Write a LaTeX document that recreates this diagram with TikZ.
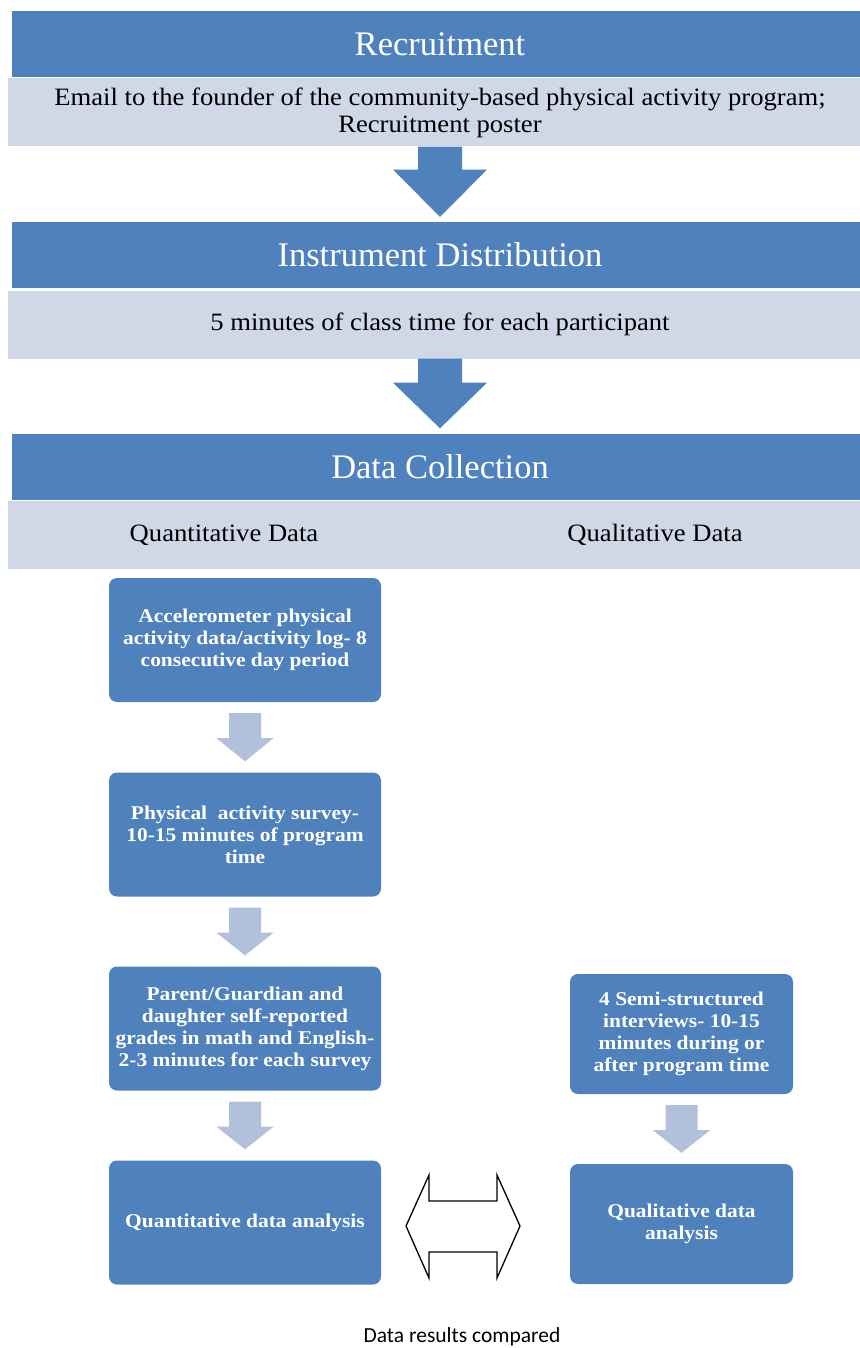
\documentclass[tikz,border=0pt]{standalone}
\usepackage{fontspec}
\setmainfont{Liberation Serif}
\newfontfamily\lbfont{Liberation Serif}[FakeStretch=1.065]
\newfontfamily\bxfont{Liberation Serif}[FakeStretch=1.1]
\newfontfamily\carl{Carlito}
\usetikzlibrary{calc}
\definecolor{dblue}{HTML}{4F81BD}
\definecolor{lblue}{HTML}{D0D8E8}
\definecolor{sarrow}{HTML}{B2C1DB}
\tikzset{
  header/.style={fill=dblue, draw=none, minimum width=856pt, minimum height=66pt, text=white, font=\fontsize{34.5}{40}\selectfont, inner sep=0pt},
  lightbox/.style={fill=lblue, draw=none, minimum width=864pt, minimum height=68pt, font=\lbfont\fontsize{25}{27}\selectfont, align=center, inner sep=0pt},
  stepbox/.style={fill=dblue, draw=none, rounded corners=8pt, text=white, font=\bxfont\bfseries\fontsize{19.5}{22}\selectfont, align=center, inner sep=0pt},
  bigarrow/.style={fill=dblue, draw=none},
  smallarrow/.style={fill=sarrow, draw=none},
  dblarrow/.style={draw=black, line width=1.3pt, fill=white, line join=miter},
  plain/.style={font=\lbfont\fontsize{25}{27}\selectfont, inner sep=0pt}
}
\begin{document}
\begin{tikzpicture}[x=1pt,y=-1pt]
\useasboundingbox (0,0) rectangle (859,1348);
% headers and light boxes
\node[header] (h1) at (440,44.5) {Recruitment};
\node[lightbox] (l1) at (440,112.5) {Email to the founder of the community-based physical activity program;\\Recruitment poster};
\node[header] (h2) at (440,255) {Instrument Distribution};
\node[lightbox] (l2) at (440,324.5) {5 minutes of class time for each participant};
\node[header] (h3) at (440,466.5) {Data Collection};
\node[lightbox] (l3) at (440,535) {};
\node[plain] (qn) at (224,535) {Quantitative Data};
\node[plain] (ql) at (655,535) {Qualitative Data};
% big arrows
\fill[bigarrow] ($(l1.south)+(-22,0)$) -- ($(l1.south)+(22,0)$) -- ($(l1.south)+(22,23)$) -- ($(l1.south)+(47,23)$) -- ($(h2.north)+(0,-5)$) -- ($(l1.south)+(-47,23)$) -- ($(l1.south)+(-22,23)$) -- cycle;
\fill[bigarrow] ($(l2.south)+(-22,0)$) -- ($(l2.south)+(22,0)$) -- ($(l2.south)+(22,24)$) -- ($(l2.south)+(47,24)$) -- ($(h3.north)+(0,-5)$) -- ($(l2.south)+(-47,24)$) -- ($(l2.south)+(-22,24)$) -- cycle;
% left column
\node[stepbox, minimum width=272pt, minimum height=124pt] (a) at (245,640) {Accelerometer physical\\activity data/activity log- 8\\consecutive day period};
\node[stepbox, minimum width=272pt, minimum height=124pt] (b) at (245,834.5) {Physical\ \ activity survey-\\10-15 minutes of program\\time};
\node[stepbox, minimum width=272pt, minimum height=124pt] (c) at (245,1028.5) {Parent/Guardian and\\daughter self-reported\\grades in math and English-\\2-3 minutes for each survey};
\node[stepbox, minimum width=272pt, minimum height=124pt] (d) at (245,1222.5) {Quantitative data analysis};
% right column
\node[stepbox, minimum width=223pt, minimum height=120pt] (e) at (681.5,1034) {4 Semi-structured\\interviews- 10-15\\minutes during or\\after program time};
\node[stepbox, minimum width=223pt, minimum height=120pt] (f) at (681.5,1224) {Qualitative data\\analysis};
% small arrows
\foreach \s/\t in {a/b,b/c,c/d,e/f}{
  \fill[smallarrow] ($(\s.south)+(-16,11)$) -- ($(\s.south)+(16,11)$) -- ($(\s.south)+(16,36)$) -- ($(\s.south)+(28.5,36)$) -- ($(\t.north)+(0,-11)$) -- ($(\s.south)+(-28.5,36)$) -- ($(\s.south)+(-16,36)$) -- cycle;
}
% double arrow
\coordinate (lt) at (406,1226);
\coordinate (rt) at (520,1226);
\draw[dblarrow] (lt) -- (429,1175) -- (429,1201) -- (497,1201) -- (497,1175) -- (rt) -- (497,1278) -- (497,1252) -- (429,1252) -- (429,1278) -- cycle;
\node[font=\carl\fontsize{21.5}{24}\selectfont, inner sep=0pt] (cmp) at (462,1337) {Data results compared};
\end{tikzpicture}
\end{document}
